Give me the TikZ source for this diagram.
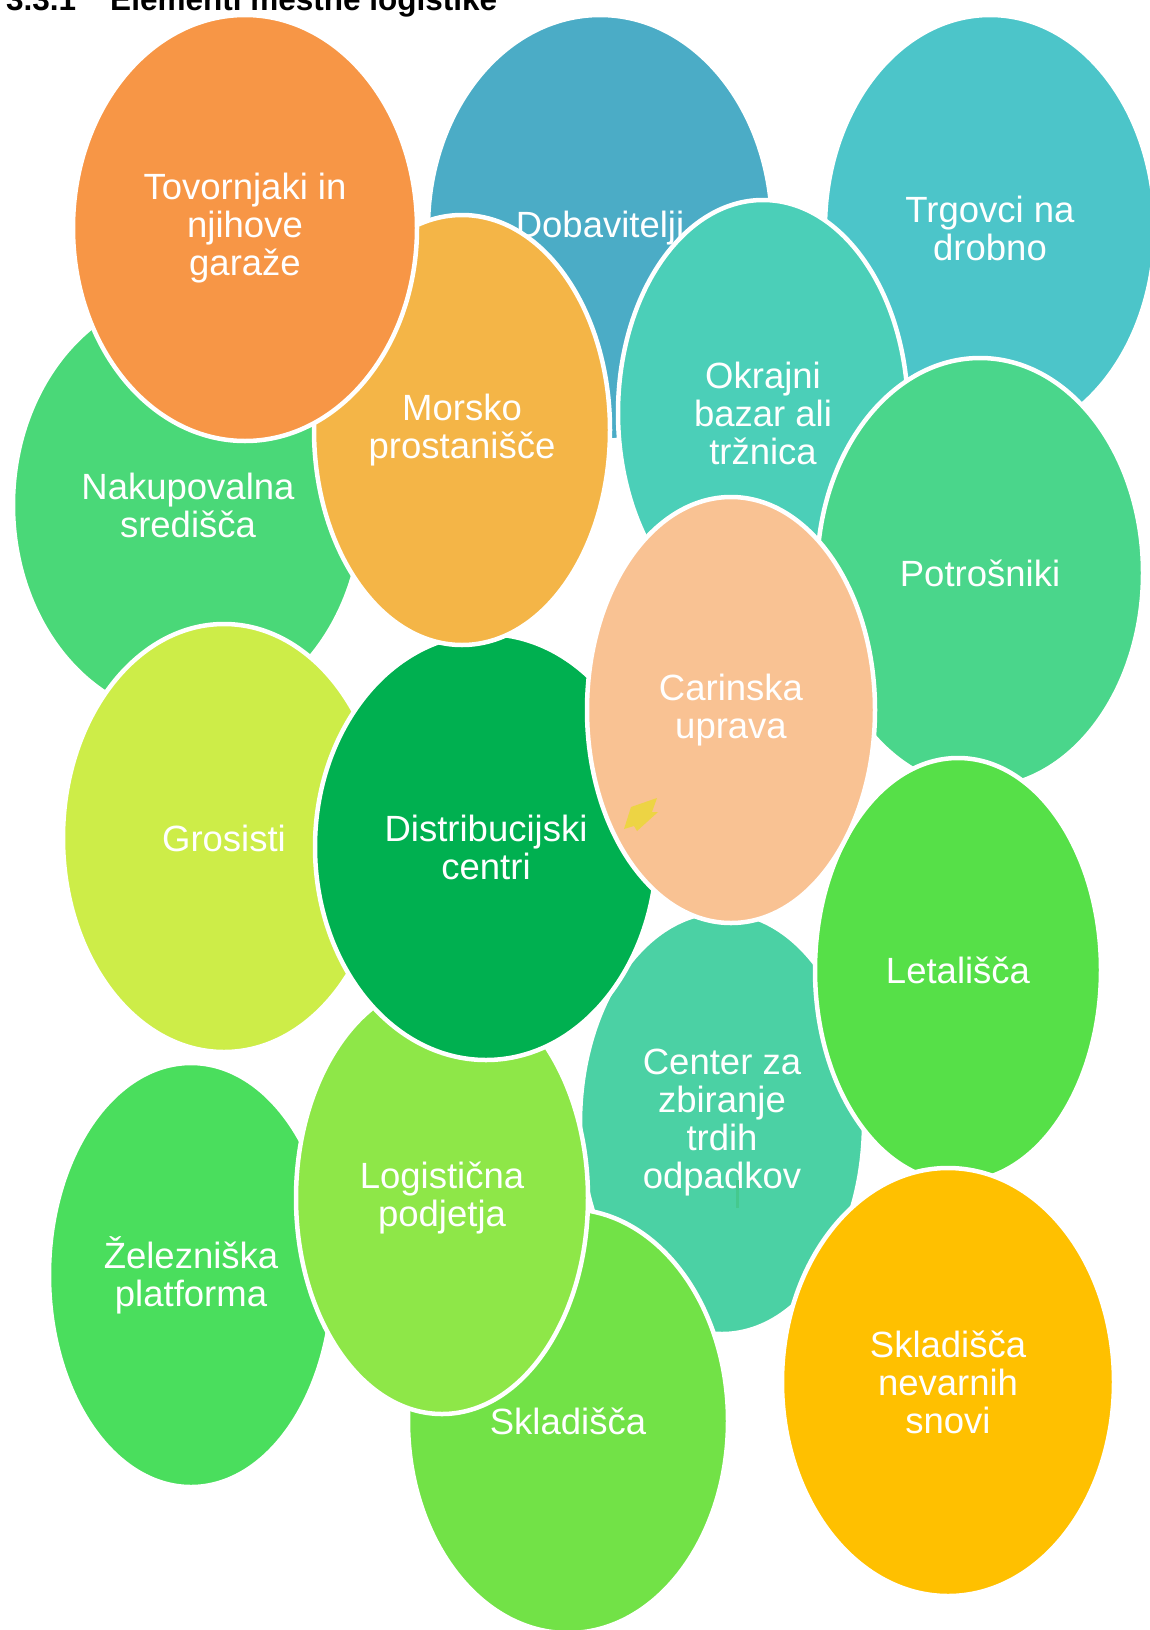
\documentclass[tikz,border=0pt]{standalone}
\usepackage{fontspec}
\setmainfont{Liberation Sans}
\usetikzlibrary{shapes.geometric}

\definecolor{cNak}{HTML}{4AD878}
\definecolor{cDob}{HTML}{4BACC6}
\definecolor{cTrg}{HTML}{4CC5C9}
\definecolor{cGro}{HTML}{CDED48}
\definecolor{cZel}{HTML}{4ADE5D}
\definecolor{cCen}{HTML}{4BD1A4}
\definecolor{cSkl}{HTML}{72E247}
\definecolor{cLog}{HTML}{8EE748}
\definecolor{cDis}{HTML}{00B050}
\definecolor{cMor}{HTML}{F4B547}
\definecolor{cTov}{HTML}{F79646}
\definecolor{cOkr}{HTML}{4BCFB8}
\definecolor{cPot}{HTML}{4AD68B}
\definecolor{cLet}{HTML}{56E048}
\definecolor{cCar}{HTML}{F9C293}
\definecolor{cNev}{HTML}{FFC000}
\definecolor{cBlob}{HTML}{EDD444}
\definecolor{cTick}{HTML}{45C98E}

\tikzset{
  bubble/.style={ellipse, draw=white, line width=4.5pt, inner sep=0pt,
    text=white, align=center, font=\fontsize{36.5}{38}\selectfont},
  size/.style n args={2}{minimum width=#1pt, minimum height=#2pt},
  heading/.style={anchor=base west, inner sep=0pt,
    font=\bfseries\fontsize{31.5}{36}\selectfont}
}

\begin{document}
\begin{tikzpicture}[x=1pt,y=-1pt]
\useasboundingbox (0,0) rectangle (1149,1630);
\fill[white] (0,0) rectangle (1149,1630);

% heading of the section, only its lower part lies on the page
\node[heading] (title) at (6,10) {3.3.1\hspace{34pt}Elementi mestne logistike};

% bubbles, from the back to the front
\node[bubble, size={350}{426}, fill=cNak] (nak) at (188,505) {Nakupovalna\\središča};
\node[bubble, size={344}{426}, fill=cDob] (dob) at (600,228) {Dobavitelji};
\node[bubble, size={330}{426}, fill=cTrg] (trg) at (990,228) {Trgovci na\\drobno};
\node[bubble, size={322}{428}, fill=cGro] (gro) at (224,838) {Grosisti};
\node[bubble, size={284}{424}, fill=cZel] (zel) at (191,1275) {Železniška\\platforma};
\node[bubble, size={284}{422}, fill=cCen] (cen) at (722,1123) {Center za\\zbiranje\\trdih\\odpadkov};
\node[bubble, size={320}{424}, fill=cSkl] (skl) at (568,1421) {Skladišča};
\node[bubble, size={292}{432}, fill=cLog] (log) at (442,1198) {Logistična\\podjetja};
\node[bubble, size={342}{426}, fill=cDis] (dis) at (486,847) {Distribucijski\\centri};
\node[bubble, size={296}{430}, fill=cMor] (mor) at (462,430) {Morsko\\prostanišče};
\node[bubble, size={344}{426}, fill=cTov] (tov) at (245,228) {Tovornjaki in\\njihove\\garaže};
\node[bubble, size={290}{426}, fill=cOkr] (okr) at (763,413) {Okrajni\\bazar ali\\tržnica};
\node[bubble, size={326}{430}, fill=cPot] (pot) at (980,573) {Potrošniki};
\node[bubble, size={286}{424}, fill=cLet] (let) at (958,970) {Letališča};
\node[bubble, size={288}{426}, fill=cCar] (car) at (731,710) {Carinska\\uprava};
\node[bubble, size={332}{428}, fill=cNev] (nev) at (948,1382) {Skladišča\\nevarnih\\snovi};

% small marks lying on two of the bubbles
\fill[cBlob] (624,829) -- (631,807) -- (657,798) -- (652,812) -- (658,812)
  -- (637,831) -- (634,826) -- cycle;
\fill[cTick] (735.5,1180) rectangle (739,1208);
\end{tikzpicture}
\end{document}
